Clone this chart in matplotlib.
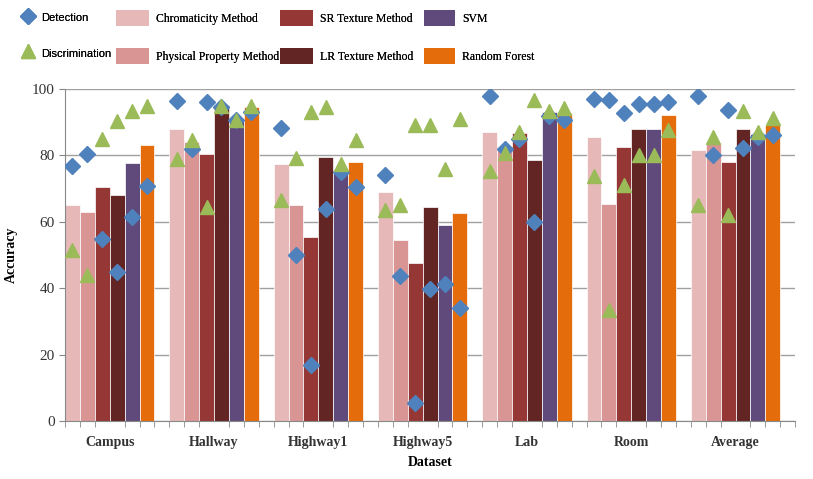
import numpy as np
import matplotlib
matplotlib.use("Agg")
from matplotlib import pyplot as plt
from matplotlib.lines import Line2D
from matplotlib.patches import Patch

datasets = ["Campus", "Hallway", "Highway1", "Highway5", "Lab", "Room", "Average"]
methods = ["Chromaticity Method", "Physical Property Method", "SR Texture Method",
           "LR Texture Method", "SVM", "Random Forest"]
colors = ["#E6B9B8", "#D99594", "#953735", "#632523", "#604A7B", "#E46C0A"]

# accuracy per dataset, one row per method
chromaticity = [65, 88, 77.5, 69, 87, 85.6, 81.7]
physical = [63, 84.2, 65, 54.6, 82.5, 65.4, 83.7]
sr_texture = [70.5, 80.5, 55.3, 47.5, 86.7, 82.5, 78]
lr_texture = [68, 95.3, 79.5, 64.6, 78.7, 88, 88]
svm = [77.7, 91, 75.7, 59, 93, 88, 86.5]
random_forest = [83.2, 94.5, 78, 62.7, 92.8, 92.3, 89.3]
bars = [chromaticity, physical, sr_texture, lr_texture, svm, random_forest]

# detection / discrimination rates, per dataset, in method order
detection = [
    [76.7, 80.5, 54.7, 45, 61.4, 70.7],
    [96.3, 82, 96, 94.5, 90.8, 93],
    [88.3, 50, 16.8, 64, 75, 70.5],
    [74, 43.6, 5.3, 39.8, 41.4, 34],
    [98, 82, 85, 60, 92, 90.8],
    [97, 96.6, 92.8, 95.6, 95.6, 96.1],
    [97.8, 80, 93.6, 82.2, 85.7, 86.2],
]
discrimination = [
    [51.6, 44, 85, 90.3, 93.3, 94.8],
    [79, 84.7, 64.4, 94.8, 90.8, 94.8],
    [66.7, 79.2, 93, 94.6, 77.5, 84.7],
    [63.5, 65, 89.3, 89.3, 76, 91],
    [75.2, 80.7, 87.2, 96.6, 93.3, 94.3],
    [73.7, 33.6, 71.2, 80, 80, 87.8],
    [65.2, 85.7, 62.2, 93.3, 87.2, 91.3],
]

serif = "Liberation Serif"
sans = "Liberation Sans"
plt.rcParams["font.family"] = serif

W, H = 813, 479
fig = plt.figure(figsize=(W / 100, H / 100), dpi=100)
ax = fig.add_axes([0.080, 0.121, 0.898, 0.693])

slot = 7  # six bars plus one empty slot per dataset
n_m = len(methods)
for j, vals in enumerate(bars):
    x = np.arange(len(datasets)) * slot + j + 0.5
    ax.bar(x, vals, width=1.0, color=colors[j], edgecolor="white", linewidth=0.5, zorder=2)

xs = (np.arange(len(datasets))[:, None] * slot + np.arange(n_m)[None, :] + 0.5).ravel()
det_style = dict(linestyle="none", marker="D", markersize=8, color="#4F81BD")
dis_style = dict(linestyle="none", marker="^", markersize=10.5, color="#9BBB59")
ax.plot(xs, np.ravel(detection), zorder=3, **det_style)
ax.plot(xs, np.ravel(discrimination), zorder=3, **dis_style)

ax.set_xlim(0, len(datasets) * slot)
ax.set_ylim(0, 100)
ax.set_yticks(np.arange(0, 101, 20))
ax.yaxis.grid(True, color="#A0A0A0", linewidth=1.0, zorder=0)
ax.set_axisbelow(True)

ax.set_xticks(np.arange(len(datasets)) * slot + 3)
ax.set_xticklabels(datasets, fontsize=10, fontweight="bold", color="#333333")
ax.set_xticks(np.arange(0, len(datasets) * slot + 1), minor=True)
ax.tick_params(axis="x", which="major", length=0, pad=11)
ax.tick_params(axis="x", which="minor", length=4, color="#888888")
ax.tick_params(axis="y", length=4, color="#888888", labelsize=11, labelcolor="#333333")

for side in ["top", "right"]:
    ax.spines[side].set_visible(False)
for side in ["left", "bottom"]:
    ax.spines[side].set_color("#888888")

ax.set_ylabel("Accuracy", fontsize=10, fontweight="bold", labelpad=10)
ax.set_xlabel("Dataset", fontsize=10, fontweight="bold", labelpad=5)

# legend: four columns of two entries each
columns = [
    (22, [Line2D([], [], **det_style), Line2D([], [], **dis_style)],
     ["Detection", "Discrimination"], sans, 8, 1.1),
    (116, [Patch(facecolor=colors[0]), Patch(facecolor=colors[1])], methods[0:2], serif, 8.5, 2.8),
    (280, [Patch(facecolor=colors[2]), Patch(facecolor=colors[3])], methods[2:4], serif, 8.5, 2.8),
    (424, [Patch(facecolor=colors[4]), Patch(facecolor=colors[5])], methods[4:6], serif, 8.5, 2.6),
]
for x0, hs, ls, fam, fs, hl in columns:
    leg = fig.legend(hs, ls, loc="upper left", bbox_to_anchor=(x0 / W, 1 - 10 / H),
                     frameon=False, prop={"family": fam, "size": fs},
                     handlelength=hl, handleheight=1.7, handletextpad=0.6,
                     labelspacing=1.85, borderpad=0, borderaxespad=0)
    fig.add_artist(leg)

fig.savefig("out.png", dpi=100)
